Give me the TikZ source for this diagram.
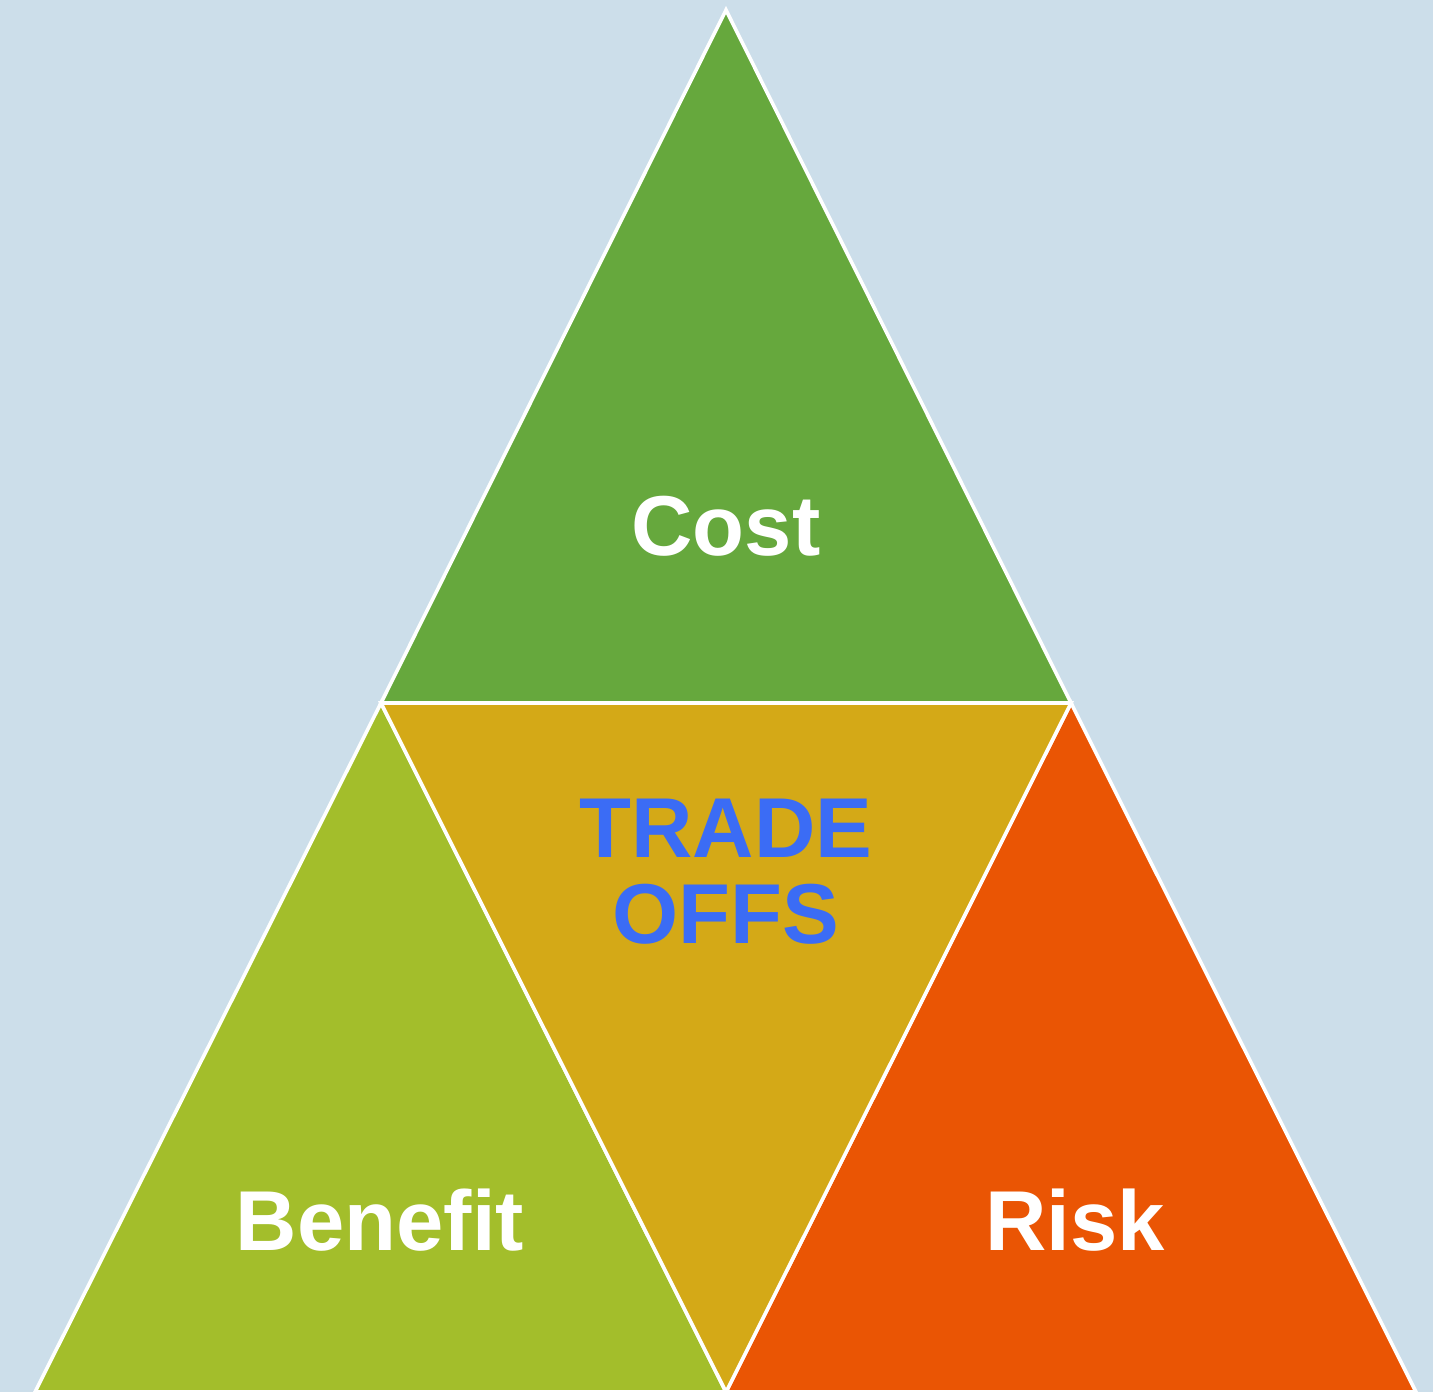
\documentclass[tikz,border=0pt]{standalone}
\usepackage{fontspec}
\setmainfont{Liberation Sans}
\definecolor{bgblue}{HTML}{CCDEEA}
\definecolor{topgreen}{HTML}{66A83D}
\definecolor{leftgreen}{HTML}{A3BE2B}
\definecolor{midgold}{HTML}{D4A917}
\definecolor{rightorange}{HTML}{EA5504}
\definecolor{tradeblue}{HTML}{3B6CF5}
\begin{document}
\begin{tikzpicture}[x=0.5pt,y=-0.5pt,
  tri/.style={draw=white,line width=1.8pt,line join=miter},
  lbl/.style={font=\bfseries\fontsize{42.5}{43}\selectfont,text=white,inner sep=0pt,align=center},
  tlbl/.style={lbl,text=tradeblue}]
\fill[bgblue] (0,0) rectangle (1433,1392);
\useasboundingbox (0,0) rectangle (1433,1392);
\coordinate (apex) at (726,10);
\coordinate (tl) at (381,703);
\coordinate (tr) at (1071,703);
\coordinate (bl) at (35,1392);
\coordinate (bm) at (726,1392);
\coordinate (br) at (1416,1392);
\filldraw[tri,fill=topgreen] (apex) -- (tl) -- (tr) -- cycle;
\filldraw[tri,fill=leftgreen] (tl) -- (bl) -- (bm) -- cycle;
\filldraw[tri,fill=rightorange] (tr) -- (bm) -- (br) -- cycle;
\filldraw[tri,fill=midgold] (tl) -- (tr) -- (bm) -- cycle;
\node[lbl] (cost) at (726,526) {Cost};
\node[tlbl] (trade) at (726,872) {TRADE\\OFFS};
\node[lbl] (benefit) at (380,1220) {Benefit};
\node[lbl] (risk) at (1075,1220) {Risk};
\end{tikzpicture}
\end{document}
